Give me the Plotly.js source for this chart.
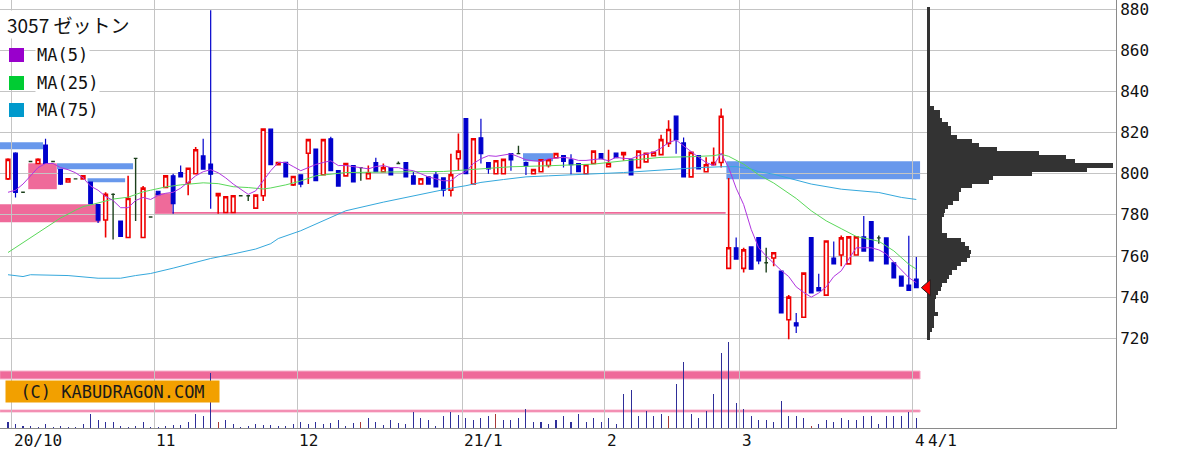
<!DOCTYPE html>
<html><head><meta charset="utf-8">
<script src="https://cdn.plot.ly/plotly-3.0.1.min.js"></script>
<style>html,body{margin:0;padding:0;background:#fff}#chart{width:1200px;height:452px}</style>
</head><body><div id="chart"></div>
<script>
// ---- daily candles (index 0 = 2020/9/30 ... index 121 = 2021/4/1) ----
const opens = [797.5,810,791,806,805,814,806,802,796,797.5,797.5,796,785,777.5,790,777,769,807.5,769,779,
791.5,793.3,799,800.6,795.5,800,808.7,804.7,789.3,781.2,781.2,789.3,789.3,783.3,789.3,821.7,804.4,805.5,794.6,799.5,
810,812,799.5,817,801.5,799,804,803,797.6,805.4,801,803,805,805.4,799,795,798.5,799.5,798,792,
807.3,826.8,795,817.5,805.4,800,800,809.8,809.8,805.4,800,801,804,807.8,808.8,806.8,805,800,805,809.8,
803.4,810,809.3,807,803,805.8,808.8,809.3,814.8,828,815,798.5,808.8,801,804.4,805.5,754,764,754,764.4,
769,756.7,759,752.7,729,727.5,730.2,769,744.6,741,759,760.5,756.2,760.5,769.3,776.7,768.8,768.8,756.7,750.2,
745.9,748.8];
const highs = [807.5,810.5,791,806,807.5,817,806,802,797.5,797.5,799,796,785,791,790.5,777,799,807.5,794,779,
791.5,799,800,804,802.7,813,817,879.5,790.4,788.8,789.3,789.3,789.3,789.6,821.7,821.7,805.5,805.5,798.7,799.5,
816.6,812,817,818,801.5,805,804,803,804,807.8,805,803,806,805.4,801,797.6,798.5,801,798,809.7,
819.6,826.8,817,826.8,805.4,806.3,807,809.8,813.6,806,802,806.8,806.8,809.8,808.8,809.5,805,804.4,811,809.8,
811.7,810,810.3,807,811,810,810.4,819,826,828,817.7,810.4,808.8,808,812.8,831.7,798,769,764,764.4,
769,764,761.6,752.7,741,732.3,751.7,769,751.4,767.3,767,770,769.3,769.3,779.5,776.7,770,768.8,756.7,750.2,
769.8,759.5];
const lows = [797,788.5,791,806,805,805,806,794.5,796,797.5,797.5,785.5,776,769,768,769.5,769,777,769,779,
789.5,793.3,780.5,798.5,789.5,800,802.3,783,780.5,781.2,781.2,789.3,786.8,783.3,786.8,804.4,804.4,798.5,794,793.5,
795,796.6,799.5,801.5,794,799,796,796.6,797.6,801,801,799.5,805,798.5,795,795,795,793.6,789,789,
801.5,800,795,805,800,800,800,801.5,809.8,799.4,800,801,803,807.8,803,799.7,801,800,805,807.3,
803.4,807.8,806.3,799.5,803,805.8,808.8,809.3,813,809.7,798.5,798.5,802.4,801,804.4,803,754,758.5,752,753.6,
756,752,755,732.3,719.5,722.6,730.2,742,743,741,756.2,755,756.2,760.5,762.4,757.6,766,756.2,749.4,745.4,
743.3,744.6];
const closes = [807,791,791,806,807,805,806,795,797.5,797.5,799,785.5,777.5,790,790,769.5,788,807.5,793,779,
789.8,799,785.5,798.5,802.7,811.7,802.3,799.8,790.4,788.8,789.3,789.3,789.3,789.6,821.7,804.4,805.5,798.5,798.7,795,
816.6,796.6,816.6,801.5,794,805,796,803,800.5,801,803,799.5,805,798.5,795,797.6,795,793.6,792,799.5,
811,800,817,809.8,802.4,806.3,807,806.8,809.8,804,802,806.8,806.8,809.8,806,804.4,801,804.4,811,807.3,
805,807.8,810.3,799.5,811,810,810.4,816.6,821.5,816.6,798.5,810.4,802.4,804.4,805.5,828,764,758.5,763,753.6,
757.6,756.7,761.6,732.3,740,726,751.7,742,743,767.3,756.2,768.8,769.3,769.3,762.4,757.6,768.8,756.2,749.4,745.4,
743.3,744.6];

// ---- daily volume (units of 100 shares) ----
const volumes = [630,400,230,230,130,400,130,230,130,130,400,1400,800,630,630,230,130,230,630,100,
130,230,300,300,630,1400,1200,5470,630,800,400,130,230,400,300,300,230,230,400,630,
400,630,400,470,800,230,470,630,970,630,300,800,470,
400,1630,970,800,200,1200,1630,1300,970,800,970,1200,1400,800,800,970,1900,600,600,400,
800,1200,600,1400,600,970,600,970,400,3400,3800,1200,1730,1200,1370,1200,4400,6630,1370,970,
1730,3400,7530,8630,2470,1900,1200,800,800,600,2700,1200,1200,970,200,400,800,600,970,800,
800,1200,1200,400,1200,1200,1200,1630,970];
const volumeRedDays = [28,47,65,88,107];

// ---- moving averages ----
const ma5 = [791,792,795,799,803,805,805,803,802,800.5,798,794,792,789,787,783.5,783.5,787,788.5,787.5,
789.5,790.5,791,793,796,799,801,802,800.5,798,795,792.5,790,791.7,796.6,801.5,805.5,805.5,803.5,801.5,
803,804.5,805.5,806.3,804,804,803.5,803,802.4,803.5,804,803,803,802,801.5,800,798.5,797.5,796.6,796.6,
799.5,801,805,807.3,808.8,808.5,809,809.7,808.3,806.8,806.3,806,807.3,807.8,808,807.5,806.5,806.5,807,807.3,
806.3,808,807.5,807.3,808.8,809.6,810.5,812.5,815.2,816.4,813.5,811,808,805.5,804,810,803,793,785,773,
764,760,756.5,753,750,745,742.3,740,742,745,750,752.8,758.5,764,764,764,763,761,757,753,749.5,747];
const ma25Idx = [0,2,3,5,7,9,10,12,14,16,18,19,21,23,25,26,28,30,32,34,35,37,39,41,45,50,54,58,63,67,72,76,78,82,87,91,94,95,96,98,100,102,105,107,109,111,113,116,118,120,121];
const ma25 = [761.7,766.5,768.5,773.5,778.5,782.3,784,785.8,787.7,788.6,791.2,792,793.6,794.6,795.1,795.6,795.2,793.7,793.3,792.6,793.1,794.6,796.5,799,800.6,801,801,801.1,802.3,803.4,803.9,804.4,804.7,806.3,808,808.3,808.8,809.5,808.5,804.7,799.5,795.5,788,782,777.1,773.3,769.5,767.2,762.5,756,753.6];
const ma75Idx = [0,2,3,8,12,15,17,19,22,25,27,30,33,35,36,39,42,45,50,54,57,59,61,63,66,69,72,76,79,82,87,89,92,95,97,99,100,102,107,111,116,119,121];
const ma75 = [750.9,750,750.9,750.5,749.2,749.2,750.5,751.5,754.1,756.9,758.8,761,763.4,766,768.5,772.3,777.1,782,786.2,789.3,791.7,793,794.2,795.8,797.2,798.5,799,799.5,800.2,800.6,801.8,802.3,803,803.4,803.5,802.3,801,799.8,795,792.5,790.9,788.5,787.5];

// ---- price-by-volume profile (2-yen bins) ----
const profilePrices = [];
for (let p = 720; p <= 880; p += 2) profilePrices.push(p);
const profileVolumes = [3.3,3.3,5,6.7,6.7,6.7,10.7,8.3,8.3,8.3,9,11,14,15,20,21.7,25,30,34,40,
43,44,42,37.5,34,20,15,15,15,15,17,18.3,21,26,32,32,34,45,61.7,66,
105,160,186,148,139,112,70,52,45,30,24,24,21,15,12.6,12.6,7,
3,3,3,3,3,3,3,3,3,3,3,3,3,3,3,3,3,3,3,3,3,3,3,3];

// ---- support / resistance zones ----
const blueZoneStart = [-1.1, 6.53, 10.6, 68.6, 95.7];
const blueZoneEnd   = [4.66, 16.66, 15.6, 72.6, 121.5];
const blueZoneLow   = [811.9, 802.2, 795.9, 806.1, 797.3];
const blueZoneHigh  = [815.3, 805.1, 797.8, 810.0, 806.1];
const pinkZoneStart = [-1.1, 2.7, 19.6, 19.6];
const pinkZoneEnd   = [12.3, 6.5, 21.9, 95.6];
const pinkZoneLow   = [776.4, 792.5, 780.8, 780.6];
const pinkZoneHigh  = [785.2, 805.1, 790.5, 781.4];
const volBandLow  = [4900, 1600];
const volBandHigh = [5700, 1800];

// ---- axis labels ----
const monthTicks  = [0.5, 19.5, 38.5, 60.5, 79.5, 97.5, 120.5];
const monthLabels = ['20/10', '11', '12', '21/1', '2', '3', '4'];
const lastDateLabel = '4/1';
const priceTicks = [720, 740, 760, 780, 800, 820, 840, 860, 880];
const title = '3057 ゼットン';
const maNames = ['MA(5)', 'MA(25)', 'MA(75)'];

// ================= build =================
const N = closes.length;
const idx = Array.from({length: N}, (_, i) => i);
const upIds = idx.filter(i => closes[i] > opens[i]);
const dnIds = idx.filter(i => closes[i] < opens[i]);
const djIds = idx.filter(i => closes[i] === opens[i]);
const W = 1116, H = 428;
const mono = 'DejaVu Sans Mono, monospace';

function candle(ids, color, fill, lw) {
  return {
    type: 'candlestick', xaxis: 'x', yaxis: 'y',
    x: ids, open: ids.map(i => opens[i]), high: ids.map(i => highs[i]),
    low: ids.map(i => lows[i]), close: ids.map(i => closes[i]),
    increasing: {line: {color: color, width: lw}, fillcolor: fill},
    decreasing: {line: {color: color, width: lw}, fillcolor: fill},
    whiskerwidth: 0, hoverinfo: 'skip', showlegend: false
  };
}

const traces = [
  {type: 'bar', x: idx, y: volumes, xaxis: 'x', yaxis: 'y2', width: 0.14,
   marker: {color: idx.map(i => volumeRedDays.includes(i) ? '#a83838' : '#2e2e98'), line: {width: 0}},
   hoverinfo: 'skip', showlegend: false},
  {type: 'bar', orientation: 'h', x: profileVolumes, y: profilePrices, xaxis: 'x2', yaxis: 'y',
   width: 2, marker: {color: '#333333', line: {width: 0}}, hoverinfo: 'skip', showlegend: false},
  candle(upIds, '#ee0000', '#ffffff', 1.6),
  candle(dnIds, '#0000cc', '#0000cc', 1.2),
  candle(djIds, '#1c401c', '#1c401c', 1.4),
  {type: 'scatter', mode: 'lines', x: ma75Idx, y: ma75, line: {color: '#35a8dc', width: 1}, hoverinfo: 'skip', showlegend: false},
  {type: 'scatter', mode: 'lines', x: ma25Idx, y: ma25, line: {color: '#5ad85a', width: 1}, hoverinfo: 'skip', showlegend: false},
  {type: 'scatter', mode: 'lines', x: idx, y: ma5, line: {color: '#b034e0', width: 1}, hoverinfo: 'skip', showlegend: false}
];

const shapes = [];
blueZoneStart.forEach((s, k) => shapes.push({type: 'rect', xref: 'x', yref: 'y', layer: 'below',
  x0: s, x1: blueZoneEnd[k], y0: blueZoneLow[k], y1: blueZoneHigh[k],
  fillcolor: '#6898ec', line: {width: 0}}));
pinkZoneStart.forEach((s, k) => shapes.push({type: 'rect', xref: 'x', yref: 'y', layer: 'below',
  x0: s, x1: pinkZoneEnd[k], y0: pinkZoneLow[k], y1: pinkZoneHigh[k],
  fillcolor: '#ef6a9a', line: {width: 0}}));
volBandLow.forEach((lo, k) => shapes.push({type: 'rect', xref: 'x', yref: 'y2', layer: 'below',
  x0: -1.1, x1: 121.5, y0: lo, y1: volBandHigh[k],
  fillcolor: '#ef6a9a', line: {width: 1, color: '#f7b4cc'}}));
// legend squares
const sqColors = ['#9900cc', '#00cc33', '#0099cc'];
const sqTop = [48, 76, 103];
sqColors.forEach((c, k) => shapes.push({type: 'rect', xref: 'paper', yref: 'paper', layer: 'above',
  x0: 9 / W, x1: 24 / W, y0: 1 - (sqTop[k] + 14) / H, y1: 1 - sqTop[k] / H,
  fillcolor: c, line: {width: 0}}));
// last-price marker
shapes.push({type: 'path', xref: 'x', yref: 'y', xsizemode: 'pixel', ysizemode: 'pixel',
  xanchor: N - 1 + 0.67, yanchor: closes[N - 1], path: 'M0,0 L9,8 L9,-8 Z',
  fillcolor: '#ff0000', line: {color: '#222', width: 1}, layer: 'above'});

const annotations = [];
monthTicks.forEach((t, k) => annotations.push({x: t, y: 0, xref: 'x', yref: 'paper',
  xanchor: 'left', yanchor: 'top', xshift: 0, yshift: -1, showarrow: false,
  text: monthLabels[k], font: {family: mono, size: 16, color: '#111'}}));
annotations.push({x: N - 1, y: 0, xref: 'x', yref: 'paper', xanchor: 'left', yanchor: 'top',
  xshift: 10, yshift: -1, showarrow: false, text: lastDateLabel, font: {family: mono, size: 16, color: '#111'}});
annotations.push({x: 6 / W, y: 1 - 10 / H, xref: 'paper', yref: 'paper', xanchor: 'left', yanchor: 'top',
  showarrow: false, text: title, bgcolor: '#ffffff', borderpad: 0,
  font: {family: 'Noto Sans CJK JP, sans-serif', size: 19, color: '#111'}});
const maCenters = [55, 83, 110];
maNames.forEach((nm, k) => annotations.push({x: 35 / W, y: 1 - maCenters[k] / H, xref: 'paper', yref: 'paper',
  xanchor: 'left', yanchor: 'middle', showarrow: false, text: nm, bgcolor: '#ffffff', borderpad: 1,
  font: {family: mono, size: 17, color: '#111'}}));
annotations.push({x: 5 / W, y: 1 - 380 / H, xref: 'paper', yref: 'paper', xanchor: 'left', yanchor: 'top',
  showarrow: false, text: '(C) KABUDRAGON.COM', bgcolor: '#f2a000', width: 209, height: 17, borderpad: 2,
  font: {family: mono, size: 17, color: '#1a1a1a'}});

const layout = {
  width: 1200, height: 452,
  margin: {l: 0, r: 84, t: 0, b: 24, pad: 0},
  paper_bgcolor: '#ffffff', plot_bgcolor: '#ffffff',
  showlegend: false, hovermode: false, dragmode: false,
  xaxis: {range: [-1.066, 147.6], tickmode: 'array', tickvals: monthTicks, showticklabels: false, ticks: '',
          showgrid: true, gridcolor: '#c4c4c4', gridwidth: 1, zeroline: false,
          showline: true, linecolor: '#8a8a8a', linewidth: 1, rangeslider: {visible: false}, fixedrange: true},
  xaxis2: {domain: [927 / W, 1], anchor: 'y', range: [0, 189], visible: false, fixedrange: true},
  yaxis: {side: 'right', range: [676.35, 884.52], tickmode: 'array', tickvals: priceTicks,
          ticks: 'inside', ticklen: 6, tickcolor: '#444', showline: true, linecolor: '#8a8a8a', linewidth: 1,
          showgrid: true, gridcolor: '#c4c4c4', gridwidth: 1, zeroline: false, fixedrange: true,
          ticklabeloverflow: 'allow', automargin: false,
          tickfont: {family: mono, size: 16, color: '#111'}},
  yaxis2: {overlaying: 'y', range: [0, 42800], visible: false, fixedrange: true},
  bargap: 0,
  shapes: shapes,
  annotations: annotations
};

Plotly.newPlot('chart', traces, layout, {staticPlot: true, displayModeBar: false});
</script>
</body></html>
